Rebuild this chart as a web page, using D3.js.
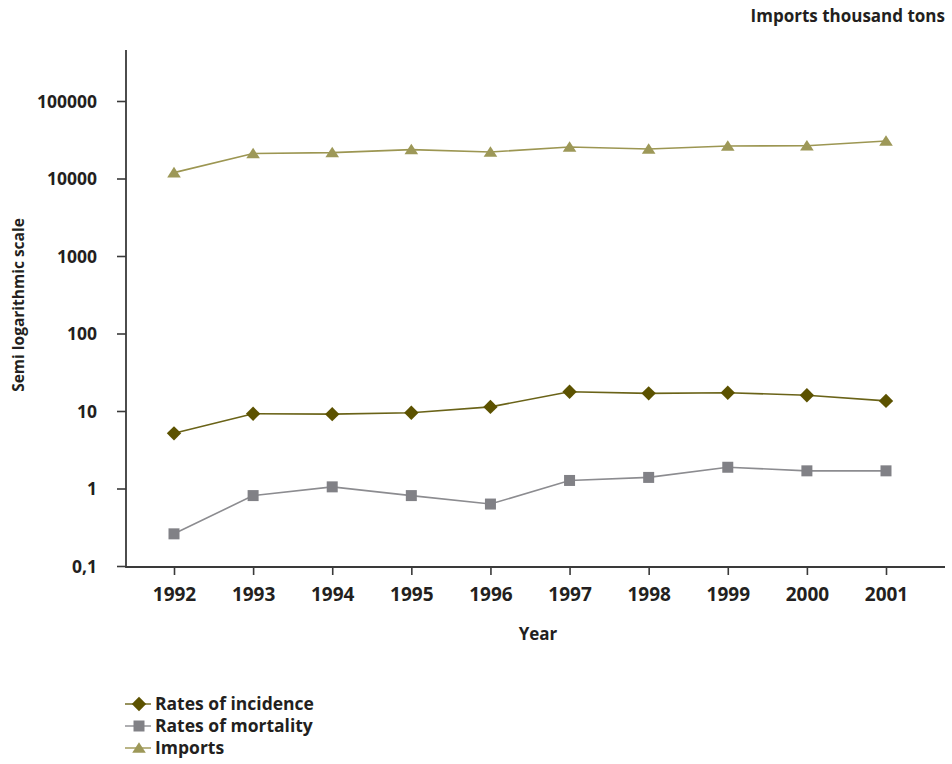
<!DOCTYPE html>
<html>
<head>
<meta charset="utf-8">
<script src="https://cdn.jsdelivr.net/npm/d3@7"></script>
<style>
  html, body { margin: 0; padding: 0; background: #fff; }
  svg { display: block; font-family: "Open Sans", "DejaVu Sans", sans-serif; font-weight: 700; }
</style>
</head>
<body>
<svg id="chart" width="952" height="764"></svg>
<script>
const years = ["1992","1993","1994","1995","1996","1997","1998","1999","2000","2001"];
const incidence = [5.15, 9.2, 9.1, 9.5, 11.3, 17.7, 16.9, 17.2, 16.0, 13.5];
const mortality = [0.26, 0.81, 1.05, 0.81, 0.63, 1.27, 1.39, 1.88, 1.69, 1.69];
const imports = [11900, 21000, 21600, 23600, 22000, 25500, 24000, 26300, 26500, 30500];
const yTicks = [0.1, 1, 10, 100, 1000, 10000, 100000];
const yTickLabels = ["0,1", "1", "10", "100", "1000", "10000", "100000"];
const seriesNames = ["Rates of incidence", "Rates of mortality", "Imports"];

const svg = d3.select("#chart");
const axisColor = "#3a3a3a";
const textColor = "#231f20";

const x = d3.scalePoint().domain(years).range([174, 886]);
const y = d3.scaleLog().domain([0.1, 100000]).range([566, 101]);

const axisLeftX = 126, axisBottomY = 567, axisTopY = 50, axisRightX = 945;

// Axes
const yAxis = d3.axisLeft(y).tickValues(yTicks)
  .tickFormat((d, i) => yTickLabels[i]).tickSize(9).tickPadding(20);
const gy = svg.append("g").attr("transform", `translate(${axisLeftX},0)`).call(yAxis);
gy.select(".domain").remove();
gy.selectAll(".tick line").attr("stroke", axisColor).attr("stroke-width", 1.6);
gy.selectAll(".tick text").attr("fill", textColor).attr("font-size", 17.5)
  .attr("font-family", "'Open Sans', sans-serif").attr("font-weight", 700)
  .attr("dx", 0).attr("dy", "0.36em");

const xAxis = d3.axisBottom(x).tickSize(8).tickPadding(13);
const gx = svg.append("g").attr("transform", `translate(0,${axisBottomY})`).call(xAxis);
gx.select(".domain").remove();
gx.selectAll(".tick line").attr("stroke", axisColor).attr("stroke-width", 1.6);
gx.selectAll(".tick text").attr("fill", textColor).attr("font-size", 19)
  .attr("font-family", "'Open Sans', sans-serif").attr("font-weight", 700);

svg.append("path")
  .attr("d", `M${axisLeftX},${axisTopY}V${axisBottomY}H${axisRightX}`)
  .attr("fill", "none").attr("stroke", axisColor).attr("stroke-width", 1.8);

// Axis titles
svg.append("text").attr("x", 538).attr("y", 640).attr("text-anchor", "middle")
  .attr("font-size", 17).attr("fill", textColor).text("Year");
svg.append("text").attr("transform", `translate(24,${305}) rotate(-90)`)
  .attr("text-anchor", "middle").attr("font-size", 15.5).attr("fill", textColor)
  .text("Semi logarithmic scale");
svg.append("text").attr("x", 945).attr("y", 22).attr("text-anchor", "end")
  .attr("font-size", 17).attr("fill", textColor).text("Imports thousand tons");

// Marker shapes
function diamond(r) { return `M0,${-r}L${r},0L0,${r}L${-r},0Z`; }
function square(r) { return `M${-r},${-r}H${r}V${r}H${-r}Z`; }
function triangle(r) { return `M0,${-r*0.85}L${r},${r*0.7}L${-r},${r*0.7}Z`; }

const series = [
  { name: seriesNames[0], values: incidence, line: "#6a6318", fill: "#5c5200", shape: () => diamond(7.2), lw: 1.6 },
  { name: seriesNames[1], values: mortality, line: "#8c8c90", fill: "#818186", shape: () => square(5.5), lw: 1.6 },
  { name: seriesNames[2], values: imports, line: "#9c9652", fill: "#9d9858", shape: () => triangle(6.8), lw: 1.6 }
];

const line = d3.line().x((d, i) => x(years[i])).y(d => y(d));

series.forEach(s => {
  svg.append("path").datum(s.values).attr("d", line)
    .attr("fill", "none").attr("stroke", s.line).attr("stroke-width", s.lw);
  svg.append("g").selectAll("path").data(s.values).join("path")
    .attr("transform", (d, i) => `translate(${x(years[i])},${y(d)})`)
    .attr("d", s.shape).attr("fill", s.fill);
});

// Legend
const legend = svg.append("g").attr("transform", "translate(0,704)");
series.forEach((s, i) => {
  const g = legend.append("g").attr("transform", `translate(0,${i * 22})`);
  g.append("line").attr("x1", 125).attr("x2", 151).attr("y1", 0).attr("y2", 0)
    .attr("stroke", s.line).attr("stroke-width", 1.4);
  g.append("path").attr("transform", "translate(139,0)")
    .attr("d", s.shape).attr("fill", s.fill);
  g.append("text").attr("x", 155).attr("y", 0).attr("dy", "0.35em")
    .attr("font-size", 17.5).attr("fill", textColor).text(s.name);
});
</script>
</body>
</html>
